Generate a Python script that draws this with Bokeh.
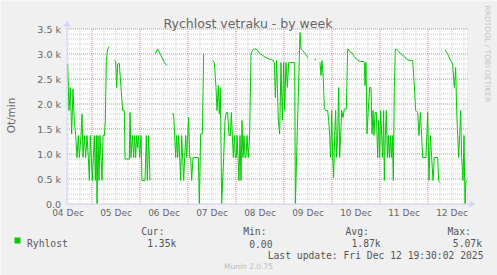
import math
from bokeh.plotting import figure
from bokeh.models import Range1d, ColumnDataSource
from bokeh.core.properties import value
from bokeh.embed import file_html
from bokeh.resources import INLINE

nan = float("nan")

# hours since the start of the weekly window (Thu 04 Dec 11:30)
hours = [
    0.33, 1.0, 1.67, 2.33, 3.0, 3.67, 4.33, 5.0, 5.67, 6.17, 7.0, 7.5, 8.0, 8.67, 9.33, 10.0,
    10.67, 11.17, 11.67, 12.17, 12.67, 13.17, 13.67, 14.17, 14.67, 15.0, 15.5, 16.0, 16.5, 17.0,
    17.5, 18.0, 18.67, 19.17, 19.67, 20.33, 21.17, 22.0,
    23.67, 24.33, 24.83, 25.33, 26.17, 27.0, 27.83, 28.67, 29.0, 31.17, 31.5, 32.0, 32.67, 33.33,
    33.83, 34.33, 34.83, 35.33, 35.83, 36.33, 37.0, 37.5, 39.0, 39.67, 40.17, 40.83, 41.5, 42.5,
    44.17, 45.33, 47.0, 48.67, 50.0, 51.0,
    52.5, 53.33, 53.83, 54.33, 54.83, 55.33, 55.83, 56.33, 56.83, 57.33, 57.83, 58.33, 58.83,
    59.33, 59.83, 60.33, 60.83, 61.33, 61.83, 62.33, 63.0, 65.67, 66.17, 66.83, 67.67, 68.33, 69.5,
    72.83, 73.67, 74.5, 75.0, 75.67, 76.17, 76.67, 77.33, 78.33, 79.0, 79.67, 80.33, 81.0, 81.67,
    82.17, 82.67, 83.17, 83.67, 84.17, 84.67, 85.0, 85.5, 86.0, 86.5, 87.0, 87.5, 88.0, 88.5, 89.0,
    89.5, 90.0, 90.67, 91.33, 92.0, 92.83, 93.67, 94.5, 95.33, 96.17, 97.83, 99.5, 101.17, 102.83,
    103.67, 104.17, 104.83, 105.67, 106.33, 107.0, 107.67, 108.33, 108.83, 109.5, 110.17, 110.83,
    111.67, 112.83, 113.83, 114.17, 116.5, 117.0, 117.83, 118.67, 120.0, 120.67, 121.5,
    123.67, 124.5, 125.5,
    126.5, 127.0, 127.5, 128.17, 128.67, 129.5, 130.33, 130.83, 131.33, 131.83, 132.33, 132.83,
    133.33, 133.83, 134.33, 134.83, 135.33, 135.83, 136.33, 136.83, 137.33, 138.0, 138.67, 139.67,
    140.33, 141.0, 141.67, 142.33, 143.67, 145.33, 147.0, 148.33, 148.67, 149.0, 149.5, 150.0,
    150.67, 151.33, 152.0, 152.5, 153.0, 153.5, 154.0, 154.67, 155.33, 155.83, 156.33, 156.83,
    157.33, 157.83, 158.33, 158.67, 159.17, 159.67, 160.17, 160.67, 161.17, 161.67, 162.17,
    162.67, 163.17, 163.67, 164.17, 164.67, 165.33, 167.0, 168.67, 170.33, 172.83, 173.67, 174.33,
    175.33, 176.0, 176.67, 177.33, 177.83, 179.5, 180.33, 181.0, 181.67, 182.33, 183.0, 183.67,
    185.33, 185.83, 186.5, 187.5,
    189.0, 190.33, 191.67, 192.83, 193.67, 194.33, 194.83, 195.33, 195.83, 196.33, 196.83, 197.33,
    198.0, 198.5, 199.0, 199.5, 199.83,
]

# fan speed (Ot/min); nan = no data
rpm = [
    2800, 1870, 2330, 1400, 2300, 1670, 1370, 930, 1370, 930, 1370, 1800, 930, 1370, 930, 1370,
    930, 470, 1370, 930, 470, 930, 1370, 470, 1370, 0, 1370, 470, 1370, 930,
    470, 1370, 1370, 1670, 2870, 3100, 3150, nan,
    2880, 2850, 2330, 2800, 2810, 2330, 1870, 1870, 900, 900, 1830, 930, 1370, 930,
    1370, 930, 1370, 1130, 1370, 930, 1370, 470, 470, 1370, 470, 1370, 470, nan,
    3000, 3100, 2970, 2830, 2770, nan,
    1800, 1800, 1370, 930, 1370, 930, 1370, 930, 470, 1370, 930, 470, 930,
    1370, 930, 1370, 1730, 930, 930, 470, 930, 930, 0, 1400, 1400, 3000, nan,
    2870, 2830, 2330, 1870, 2370, 1800, 2330, 0, 930, 1670, 1830, 1830, 1370, 1370,
    1830, 1370, 930, 1370, 930, 930, 1370, 930, 470, 1370, 470, 1670, 930, 1370, 930,
    930, 1370, 930, 1370, 3000, 3080, 3100, 3100, 3070, 3020, 2970, 2930, 2900, 2880,
    2830, 2130, 2870, 1670, 1400, 2830, 1670, 2830, 1870, 2830, 2330, 2830,
    2830, 2830, 2830, 0, 3430, 3100, 3070, 3030, 2950, 2930, nan,
    2880, 2900, nan,
    2830, 2570, 2870, 2500, 1900, 1870, 1870, 1670, 1370, 930, 1870, 930,
    530, 1370, 1870, 930, 1370, 2330, 930, 1370, 1870, 1730, 1900, 1900,
    3100, 3080, 3030, 3030, 2950, 2870, 2850, 2850, 2830, 2370, 2830, 1400,
    1900, 2330, 2330, 1400, 1870, 1370, 1830, 1830, 930, 1670, 930, 1870,
    1370, 930, 1870, 470, 1370, 1870, 930, 1370, 930, 1370, 930,
    1370, 470, 2330, 3100, 3100, 3070, 3000, 2950, 2880, 2870, 2370, 1870,
    1830, 1370, 1830, 1370, 930, 930, 1830, 470, 1370, 930, 470, 930,
    930, 470, 430, nan,
    3080, 3000, 2880, 2800, 2330, 2730, 1870, 1370, 930, 1370, 1870, 930,
    470, 1370, 0, 470, 470,
]

day_labels = ["04 Dec", "05 Dec", "06 Dec", "07 Dec", "08 Dec", "09 Dec", "10 Dec", "11 Dec", "12 Dec"]
day_label_hours = [0.5, 24.5, 48.5, 72.5, 96.5, 120.5, 144.5, 168.5, 192.5]      # noon of each day
midnight_hours = [12.5, 36.5, 60.5, 84.5, 108.5, 132.5, 156.5, 180.5]
six_hour_ticks = [0.5 + 6 * i for i in range(34)]
y_ticks = [0, 500, 1000, 1500, 2000, 2500, 3000, 3500]
y_labels = ["0.0", "0.5 k", "1.0 k", "1.5 k", "2.0 k", "2.5 k", "3.0 k", "3.5 k"]
y_minor = [100 * i for i in range(36)]

legend_name = "Ryhlost"
stat_names = ["Cur:", "Min:", "Avg:", "Max:"]
stat_values = ["1.35k", "0.00", "1.87k", "5.07k"]

W, H = 497, 275
FONT_COLOR = "#666666"
LEG_COLOR = "#555555"
AXIS_COLOR = "#CFD6F8"
LINE_COLOR = "#00CC00"
H_SPAN = 200.0       # hours shown
V_TOP = 3500.0

# graph area in canvas pixels
GX0, GX1, GY0, GY1 = 66, 466, 28, 203
px_per_h = (GX1 - GX0) / H_SPAN
px_per_v = (GY1 - GY0) / V_TOP

# ranges so that the whole canvas is the frame and the graph area lands on the pixels above
x_start = -(GX0 + 0.5) / px_per_h
x_end = (W - GX0 - 0.5) / px_per_h
y_start = -(H - GY1 - 0.5) / px_per_v
y_end = (GY1 + 0.5) / px_per_v


def cx(X):
    """canvas pixel x -> data x"""
    return (X - GX0 - 0.5) / px_per_h


def cy(Y):
    """canvas pixel y (from top) -> data y"""
    return (GY1 + 0.5 - Y) / px_per_v


p = figure(width=W, height=H, output_backend="svg", toolbar_location=None,
           x_range=Range1d(x_start, x_end), y_range=Range1d(y_start, y_end),
           x_axis_type=None, y_axis_type=None,
           min_border=0, min_border_left=0, min_border_right=0, min_border_top=0,
           min_border_bottom=0,
           background_fill_color="#F0F0F0", border_fill_color="#F0F0F0",
           outline_line_color=None)
p.grid.visible = False

# white canvas of the graph
p.quad(left=[0], right=[H_SPAN], bottom=[0], top=[V_TOP], fill_color="#FFFFFF", line_color=None)

# minor grid
GRID_C = "#CCCCCC"
MGRID_C = "#E8A0A0"
p.segment(x0=six_hour_ticks, x1=six_hour_ticks, y0=[0] * len(six_hour_ticks),
          y1=[V_TOP] * len(six_hour_ticks), line_color=GRID_C, line_dash="1 1", line_width=1)
p.segment(x0=[0] * len(y_minor), x1=[H_SPAN + 1] * len(y_minor), y0=y_minor, y1=y_minor,
          line_color=GRID_C, line_dash="1 1", line_width=1)
# major grid
p.segment(x0=midnight_hours, x1=midnight_hours, y0=[0] * len(midnight_hours),
          y1=[V_TOP] * len(midnight_hours), line_color=MGRID_C, line_dash="1 1", line_width=1)
p.segment(x0=[0] * (len(y_ticks) - 1), x1=[H_SPAN + 1] * (len(y_ticks) - 1), y0=y_ticks[1:],
          y1=y_ticks[1:], line_color=MGRID_C, line_dash="1 1", line_width=1)

# data line
src = ColumnDataSource(dict(h=hours, v=rpm))
p.line("h", "v", source=src, line_color=LINE_COLOR, line_width=1)

# axes with arrows
p.segment(x0=[0], x1=[cx(470)], y0=[0], y1=[0], line_color=AXIS_COLOR, line_width=1)
p.segment(x0=[0], x1=[0], y0=[0], y1=[cy(25)], line_color=AXIS_COLOR, line_width=1)
p.scatter(x=[0], y=[cy(24)], marker="triangle", size=7, fill_color=AXIS_COLOR,
          line_color=None)
p.scatter(x=[cx(471)], y=[0], marker="triangle", size=7, angle=-math.pi / 2,
          fill_color=AXIS_COLOR, line_color=None)


def txt(texts, xs, ys, size, color=FONT_COLOR, font="DejaVu Sans", align="left",
        baseline="alphabetic", angle=0.0):
    p.text(x=xs, y=ys, text=texts, text_font=value(font), text_font_size=value(f"{size}px"),
           text_color=color, text_align=align, text_baseline=baseline, angle=angle)


# tick labels
txt(day_labels, day_label_hours, [cy(207.5)] * len(day_labels), 9, align="center",
    baseline="top")
txt(y_labels, [cx(60.5)] * len(y_labels), y_ticks, 9.5, align="right", baseline="middle")

txt(["Rychlost vetraku - by week"], [cx(247.5)], [cy(23)], 12.5)
p.renderers[-1].glyph.text_align = "center"
txt(["Ot/min"], [cx(10.5)], [cy(115)], 10.5, align="center", baseline="middle",
    angle=math.pi / 2)
txt(["RRDTOOL / TOBI OETIKER"], [cx(487)], [cy(5)], 7.5, color="#C4C4C4", align="left",
    baseline="middle", angle=-math.pi / 2)

# legend
MONO = "DejaVu Sans Mono"
p.scatter(x=[cx(17)], y=[cy(240)], marker="square", size=6, fill_color=LINE_COLOR,
          line_color=None)
txt([legend_name], [cx(26.5)], [cy(243)], 9.7, font=MONO, color=LEG_COLOR)
stat_name_x = [140.7, 242.7, 345.0, 447.0]
stat_val_x = [146.7, 248.7, 351.0, 452.3]
txt(stat_names, [cx(v) for v in stat_name_x], [cy(231)] * 4, 9.7, font=MONO, color=LEG_COLOR)
txt(stat_values, [cx(v) for v in stat_val_x], [cy(243)] * 4, 9.7, font=MONO, color=LEG_COLOR)
txt(["Last update: Fri Dec 12 19:30:02 2025"], [cx(483)], [cy(254.5)], 9.7, font=MONO,
    color=LEG_COLOR, align="right")
txt(["Munin 2.0.75"], [cx(248)], [cy(266)], 7.5, color="#BBBBBB", align="center")

open("out.html", "w").write(file_html(p, INLINE))
